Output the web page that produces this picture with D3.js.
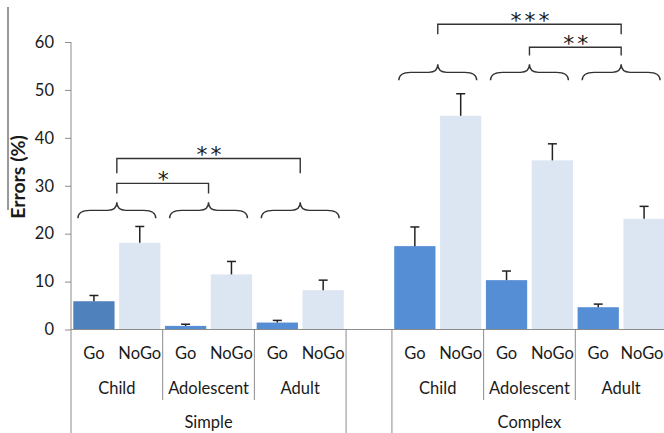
<!DOCTYPE html>
<html>
<head>
<meta charset="utf-8">
<title></title>
<script src="https://cdn.jsdelivr.net/npm/d3@7/dist/d3.min.js"></script>
<style>
  body { margin: 0; background: #fff; }
  text { font-family: Lato, "Open Sans", sans-serif; fill: #1a1a1a; }
</style>
</head>
<body>
<svg id="svg"></svg>
<script>
var width = 664;
var height = 433;

// data (errors in %)
const conditions = ["Simple", "Complex"];
const ages = ["Child", "Adolescent", "Adult"];
const responses = ["Go", "NoGo"];
const simpleGo = [5.9, 0.75, 1.45];
const simpleNoGo = [18.1, 11.5, 8.2];
const simpleGoErr = [1.2, 0.35, 0.45];
const simpleNoGoErr = [3.4, 2.7, 2.1];
const complexGo = [17.4, 10.3, 4.65];
const complexNoGo = [44.6, 35.3, 23.1];
const complexGoErr = [4.0, 1.9, 0.65];
const complexNoGoErr = [4.6, 3.45, 2.6];
const yTicks = [0, 10, 20, 30, 40, 50, 60];
// brace base level per condition, and significance brackets
const braceLevels = [23.2, 52.0];
const sigBrackets = [
  {cond: "Simple", from: "Child", to: "Adolescent", label: "*", top: 30.5, leg: 28.4},
  {cond: "Simple", from: "Child", to: "Adult", label: "**", top: 35.7, leg: 32.6},
  {cond: "Complex", from: "Child", to: "Adult", label: "***", top: 63.7, leg: 61.6},
  {cond: "Complex", from: "Adolescent", to: "Adult", label: "**", top: 58.9, leg: 57.2}
];

const means = {Simple: [simpleGo, simpleNoGo], Complex: [complexGo, complexNoGo]};
const errs = {Simple: [simpleGoErr, simpleNoGoErr], Complex: [complexGoErr, complexNoGoErr]};

var bars = [];
var slots = [];
conditions.forEach(function (c, ci) {
  if (ci > 0) slots.push("gap" + ci);
  ages.forEach(function (a, ai) {
    responses.forEach(function (r, ri) {
      var key = c + "|" + a + "|" + r;
      slots.push(key);
      bars.push({key: key, cond: c, age: a, resp: r, ci: ci, ai: ai,
        value: means[c][ri][ai], err: errs[c][ri][ai]});
    });
  });
});

const svg = d3.select('#svg').attr('width', width).attr('height', height);

const x = d3.scaleBand().domain(slots).range([71, 667]).paddingInner(0.1).paddingOuter(0.05);
const y = d3.scaleLinear().domain([0, 60]).range([329.5, 42]);
const half = (x.step() - x.bandwidth()) / 2;
function left(key) { return x(key) - half; }
function center(c, a) { return left(c + "|" + a + "|Go") + x.step(); }

const axisColor = "#8c8c8c";

// y axis
const yAxis = svg.append('g').attr('transform', 'translate(71,0)')
  .call(d3.axisLeft(y).tickValues(yTicks).tickSize(6).tickPadding(11));
yAxis.select('.domain').remove();
yAxis.selectAll('line').attr('stroke', axisColor);
yAxis.selectAll('text').style('font-size', '16.5px').style('font-family', 'Lato, sans-serif').attr('fill', '#1a1a1a');
svg.append('line').attr('x1', 71).attr('x2', 71).attr('y1', y(60)).attr('y2', height)
  .attr('stroke', axisColor);

// title
svg.append('line').attr('x1', 8).attr('x2', 8).attr('y1', 7).attr('y2', 210)
  .attr('stroke', '#555').attr('stroke-width', 1.2);
svg.append('text').attr('transform', 'translate(25,177) rotate(-90)')
  .attr('text-anchor', 'middle').style('font-size', '19.5px').style('font-weight', 'bold')
  .text('Errors (%)');

// bars
svg.selectAll('rect.bar').data(bars).join('rect').attr('class', 'bar')
  .attr('x', d => x(d.key)).attr('width', x.bandwidth())
  .attr('y', d => y(d.value)).attr('height', d => y(0) - y(d.value))
  .attr('fill', function (d) {
    if (d.resp === "NoGo") return "#dce6f2";
    return (d.cond === "Simple" && d.age === "Child") ? "#4f81bd" : "#558ed5";
  });

// error bars (upper only)
const eb = svg.selectAll('g.err').data(bars).join('g').attr('class', 'err');
eb.append('line')
  .attr('x1', d => x(d.key) + x.bandwidth() / 2).attr('x2', d => x(d.key) + x.bandwidth() / 2)
  .attr('y1', d => y(d.value)).attr('y2', d => y(d.value + d.err))
  .attr('stroke', '#222').attr('stroke-width', 1.5);
eb.append('line')
  .attr('x1', d => x(d.key) + x.bandwidth() / 2 - 4.5).attr('x2', d => x(d.key) + x.bandwidth() / 2 + 4.5)
  .attr('y1', d => y(d.value + d.err)).attr('y2', d => y(d.value + d.err))
  .attr('stroke', '#222').attr('stroke-width', 1.5);

// category axis
svg.append('line').attr('x1', 71).attr('x2', width).attr('y1', y(0)).attr('y2', y(0))
  .attr('stroke', axisColor);
conditions.forEach(function (c, ci) {
  ages.forEach(function (a, ai) {
    var k0 = c + "|" + a + "|Go";
    var xl = left(k0);
    var long = (ai === 0);
    if (!(ci === 0 && ai === 0)) {
      svg.append('line').attr('x1', xl).attr('x2', xl).attr('y1', y(0))
        .attr('y2', long ? height : 400).attr('stroke', axisColor);
    }
    svg.append('text').attr('x', center(c, a)).attr('y', 394)
      .attr('text-anchor', 'middle').style('font-size', '16.5px').text(a);
    responses.forEach(function (r) {
      var k = c + "|" + a + "|" + r;
      svg.append('text').attr('x', Math.min(x(k) + x.bandwidth() / 2, width - 22)).attr('y', 359)
        .attr('text-anchor', 'middle').style('font-size', '16.5px').text(r);
    });
  });
  var last = left(c + "|Adult|NoGo") + x.step();
  svg.append('line').attr('x1', last).attr('x2', last).attr('y1', y(0)).attr('y2', height)
    .attr('stroke', axisColor);
  svg.append('text').attr('x', center(c, "Adolescent")).attr('y', 428)
    .attr('text-anchor', 'middle').style('font-size', '16.5px').text(c);

  // braces over each age group
  ages.forEach(function (a) {
    var xm = center(c, a);
    var w = x.step() * 0.85;
    var x0 = xm - w, x1 = xm + w;
    var yb = y(braceLevels[ci]), yf = yb - 8, yt = yb - 16;
    var p = d3.path();
    p.moveTo(x0, yb);
    p.quadraticCurveTo(x0, yf, x0 + 12, yf);
    p.lineTo(xm - 9, yf);
    p.quadraticCurveTo(xm, yf, xm, yt);
    p.quadraticCurveTo(xm, yf, xm + 9, yf);
    p.lineTo(x1 - 12, yf);
    p.quadraticCurveTo(x1, yf, x1, yb);
    svg.append('path').attr('d', p.toString()).attr('fill', 'none')
      .attr('stroke', '#333').attr('stroke-width', 1.4);
  });
});

// significance brackets
sigBrackets.forEach(function (s) {
  var xa = center(s.cond, s.from), xb = center(s.cond, s.to);
  var yt = y(s.top), yl = y(s.leg);
  svg.append('path')
    .attr('d', 'M' + xa + ',' + yl + 'V' + yt + 'H' + xb + 'V' + yl)
    .attr('fill', 'none').attr('stroke', '#333').attr('stroke-width', 1.4);
  svg.append('text').attr('x', (xa + xb) / 2 + 2).attr('y', yt + 4)
    .attr('text-anchor', 'middle').style('font-family', '"DejaVu Sans", sans-serif')
    .style('font-size', '22px').style('letter-spacing', '3px')
    .text(s.label);
});
</script>
</body>
</html>
